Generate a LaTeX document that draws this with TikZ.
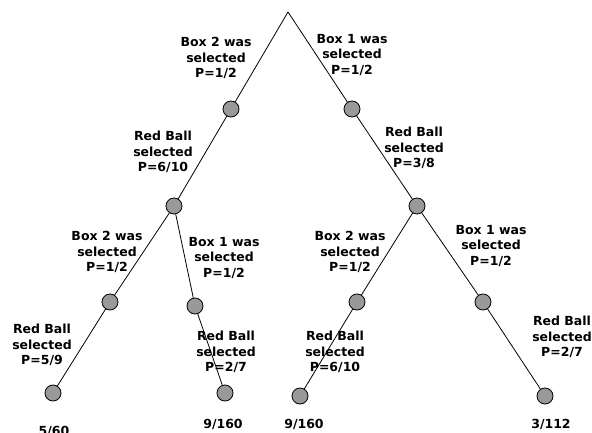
\documentclass[tikz,border=0pt]{standalone}
\usepackage{fontspec}
\setmainfont{DejaVu Sans}
\definecolor{ballgray}{HTML}{999999}
\begin{document}
\begin{tikzpicture}
[-,line width=0.8pt,x=1pt,y=-1pt,%
  dot/.style={shape=circle,draw,fill=ballgray,minimum size=16pt,inner sep=0pt},%
  lbl/.style={align=center,inner sep=0pt,font=\bfseries\fontsize{12.5}{15.5}\selectfont}]
\useasboundingbox (0,0) rectangle (592,433);
\clip (0,0) rectangle (592,433);
% tree points
\coordinate (top) at (288,12);
\node[dot] (boxtwo) at (231,109) {};
\node[dot] (boxone) at (352,109) {};
\node[dot] (redl) at (174,206) {};
\node[dot] (redr) at (417,206) {};
\node[dot] (redl-two) at (110,302) {};
\node[dot] (redl-one) at (195,306) {};
\node[dot] (redr-two) at (357,302) {};
\node[dot] (redr-one) at (483,302) {};
\node[dot] (end-a) at (53,393) {};
\node[dot] (end-b) at (225,393) {};
\node[dot] (end-c) at (300,396) {};
\node[dot] (end-d) at (545,396) {};
% branches
\draw (top) -- (boxtwo) -- (redl) -- (redl-two) -- (end-a);
\draw (redl) -- (redl-one) -- (end-b);
\draw (top) -- (boxone) -- (redr) -- (redr-two) -- (end-c);
\draw (redr) -- (redr-one) -- (end-d);
% branch labels
\node[lbl] (lab-boxtwo) at (216,58) {Box 2 was\\selected\\P=1/2};
\node[lbl] (lab-boxone) at (352,55) {Box 1 was\\selected\\P=1/2};
\node[lbl] (lab-redl) at (163,152) {Red Ball\\selected\\P=6/10};
\node[lbl] (lab-redr) at (414,148) {Red Ball\\selected\\P=3/8};
\node[lbl] (lab-redl-two) at (107,252) {Box 2 was\\selected\\P=1/2};
\node[lbl] (lab-redl-one) at (224,258) {Box 1 was\\selected\\P=1/2};
\node[lbl] (lab-redr-two) at (350,252) {Box 2 was\\selected\\P=1/2};
\node[lbl] (lab-redr-one) at (491,246) {Box 1 was\\selected\\P=1/2};
\node[lbl] (lab-end-a) at (42,345) {Red Ball\\selected\\P=5/9};
\node[lbl] (lab-end-b) at (226,352) {Red Ball\\selected\\P=2/7};
\node[lbl] (lab-end-c) at (335,352) {Red Ball\\selected\\P=6/10};
\node[lbl] (lab-end-d) at (562,337) {Red Ball\\selected\\P=2/7};
% results
\node[lbl,anchor=base] (res-a) at (54,435) {5/60};
\node[lbl,anchor=base] (res-b) at (223,428) {9/160};
\node[lbl,anchor=base] (res-c) at (304,428) {9/160};
\node[lbl,anchor=base] (res-d) at (551,428) {3/112};
\end{tikzpicture}
\end{document}
